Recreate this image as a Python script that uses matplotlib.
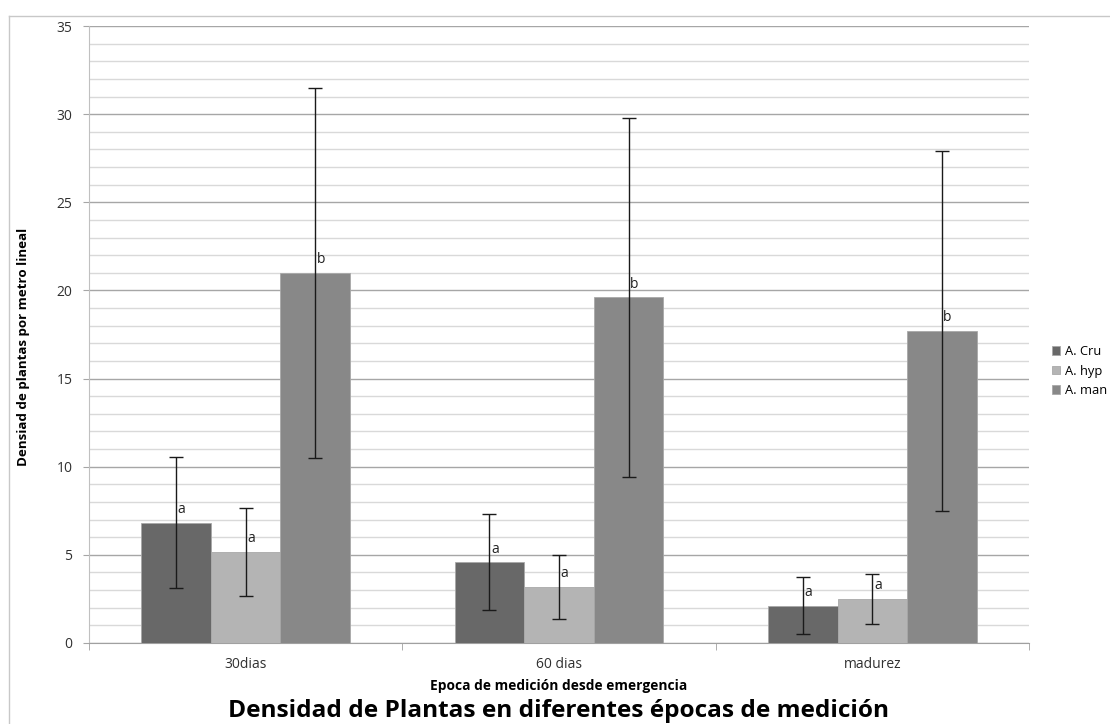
import numpy as np
import matplotlib.pyplot as plt
from matplotlib.lines import Line2D

plt.rcParams['font.family'] = ['Open Sans', 'DejaVu Sans']

# ---------- datos ----------
epocas = ['30dias', '60 dias', 'madurez']
especies = ['A. Cru', 'A. hyp', 'A. man']
colores = ['#686868', '#b4b4b4', '#888888']

cru = [6.83, 4.59, 2.12]
hyp = [5.16, 3.18, 2.50]
man = [21.0, 19.6, 17.7]
err_cru = [3.72, 2.74, 1.60]
err_hyp = [2.52, 1.84, 1.40]
err_man = [10.5, 10.2, 10.2]
letras_cru = ['a', 'a', 'a']
letras_hyp = ['a', 'a', 'a']
letras_man = ['b', 'b', 'b']

medias = [cru, hyp, man]
errores = [err_cru, err_hyp, err_man]
letras = [letras_cru, letras_hyp, letras_man]

# ---------- figura ----------
W, H = 1110, 724
fig = plt.figure(figsize=(W/100, H/100), dpi=100)
ax = fig.add_axes([89/W, 1-643/H, (1029-89)/W, (643-26)/H])

# borde del area del grafico
fig.add_artist(Line2D([9/W, 1], [1-16/H, 1-16/H], color='#c8c8c8', lw=1))
fig.add_artist(Line2D([9/W, 9/W], [0, 1-16/H], color='#c8c8c8', lw=1))

x = np.arange(len(epocas))
ancho = 1/4.5
for i in range(3):
    pos = x + (i-1)*ancho
    ax.bar(pos, medias[i], ancho, color=colores[i], edgecolor='#a8a8a8',
           linewidth=0.6, label=especies[i], zorder=3)
    ax.errorbar(pos, medias[i], yerr=errores[i], fmt='none', ecolor='#1a1a1a',
                elinewidth=1, capsize=5, capthick=1, zorder=4)
    for p, m, l in zip(pos, medias[i], letras[i]):
        ax.annotate(l, (p, m), xytext=(4, 4), textcoords='offset points',
                    ha='center', va='bottom', fontsize=10, color='#222222', zorder=5)

ax.set_xlim(-0.5, 2.5)
ax.set_ylim(0, 35)
ax.set_yticks(range(0, 36, 5))
ax.set_yticks(range(0, 36, 1), minor=True)
ax.grid(axis='y', which='major', color='#a6a6a6', lw=1, zorder=0)
ax.grid(axis='y', which='minor', color='#d9d9d9', lw=1, zorder=0)
ax.set_xticks(x)
ax.set_xticklabels(epocas)
ax.set_xticks([-0.5, 0.5, 1.5, 2.5], minor=True)

ax.tick_params(axis='y', which='major', length=4, color='#a6a6a6', pad=8,
               labelsize=10, labelcolor='#303030')
ax.tick_params(axis='y', which='minor', length=0)
ax.tick_params(axis='x', which='major', length=0, pad=10,
               labelsize=10, labelcolor='#303030')
ax.tick_params(axis='x', which='minor', length=5, color='#a0a0a0')

for s in ['top', 'right']:
    ax.spines[s].set_visible(False)
ax.spines['left'].set_color('#c0c0c0')
ax.spines['bottom'].set_color('#a0a0a0')

ax.set_ylabel('Densiad de plantas por metro lineal', fontsize=9.6, fontweight='bold')
ax.yaxis.set_label_coords(-0.063, 0.48)
ax.set_xlabel('Epoca de medición desde emergencia', fontsize=9.9, fontweight='bold')
ax.xaxis.set_label_coords(0.5, -0.058)

fig.text(559/W, 1-711/H, 'Densidad de Plantas en diferentes épocas de medición',
         ha='center', va='center', fontsize=17.6, fontweight='bold')

fig.legend(loc='center left', bbox_to_anchor=(1046/W, 1-371/H), frameon=False,
           fontsize=9.3, handlelength=0.6, handleheight=0.6, handletextpad=0.4,
           labelspacing=0.5, borderpad=0)

fig.savefig('out.png', dpi=100)
